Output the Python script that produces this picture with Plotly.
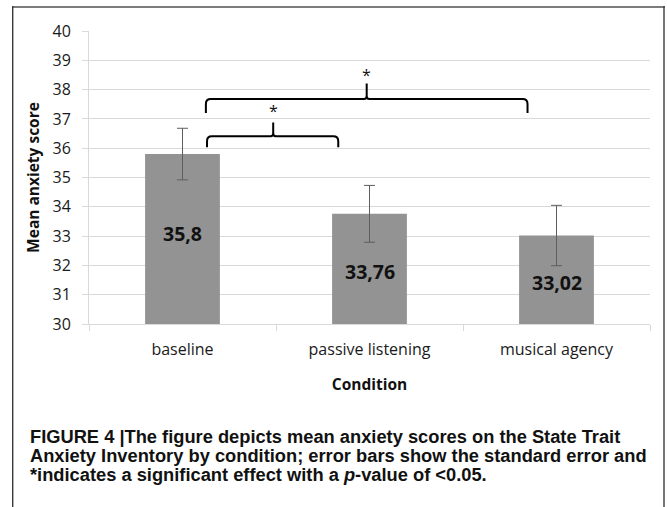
import plotly.graph_objects as go

# ---------------- data ----------------
conditions = ["baseline", "passive listening", "musical agency"]
mean_scores = [35.8, 33.76, 33.02]
std_errors = [0.88, 0.97, 1.03]
value_labels = ["35,8", "33,76", "33,02"]
label_y = [33.09, 31.80, 31.41]          # where the value labels sit (data units)

# significance brackets: (left x, right x, tip x, level y, end y, tip y) in category/data units
brackets = [
    (0.125, 1.845, 0.985, 37.68, 37.20, 38.21),
    (0.131, 0.833, 0.485, 36.41, 36.03, 36.88),
]
bracket_marks = ["*", "*"]
mark_y = [38.50, 37.28]

y_range = [30, 40]

caption_lines = [
    "FIGURE 4 |The figure depicts mean anxiety scores on the State Trait",
    "Anxiety Inventory by condition; error bars show the standard error and",
    "*indicates a significant effect with a <i>p</i>-value of &lt;0.05.",
]

# ---------------- layout geometry ----------------
W, H = 667, 507
ML, MR, MT, MB = 89, 17, 31, 183
PW, PH = W - ML - MR, H - MT - MB


def px2x(px):
    return (px - ML) / PW


def py2y(py):
    return (H - MB - py) / PH


FONT = "Open Sans"
BAR_COLOR = "#939393"
GRID = "#d9d9d9"

fig = go.Figure()
fig.add_trace(go.Bar(
    x=conditions, y=mean_scores,
    marker=dict(color=BAR_COLOR, line=dict(width=0)),
    width=0.4,
    error_y=dict(type="data", array=std_errors, visible=True,
                 color="#5e5e5e", thickness=1, width=5.5),
    showlegend=False, hoverinfo="skip",
))

shapes = []
annotations = []

# brackets
for (x0, x1, xt, yl, ye, yt) in brackets:
    rx, ry = 0.026, 0.17
    tx, ty = 0.014, 0.10
    path = (
        f"M {x0},{ye} L {x0},{yl - ry} Q {x0},{yl} {x0 + rx},{yl} "
        f"L {xt - tx},{yl} Q {xt},{yl} {xt},{yl + ty} L {xt},{yt} "
        f"M {xt},{yl + ty} Q {xt},{yl} {xt + tx},{yl} "
        f"L {x1 - rx},{yl} Q {x1},{yl} {x1},{yl - ry} L {x1},{ye}"
    )
    shapes.append(dict(type="path", xref="x", yref="y", path=path,
                       line=dict(color="black", width=2)))

for (b, m, my) in zip(brackets, bracket_marks, mark_y):
    annotations.append(dict(x=b[2], y=my, xref="x", yref="y", text=m,
                            showarrow=False,
                            font=dict(family=FONT, size=16, color="#111")))

# value labels
for c, t, ly in zip(conditions, value_labels, label_y):
    annotations.append(dict(x=c, y=ly, xref="x", yref="y", text=t,
                            showarrow=False,
                            font=dict(family=FONT, size=19.5, color="#111",
                                      weight="bold")))

# caption
cap_centers = [436.5, 455.5, 474.5]
for line, cy in zip(caption_lines, cap_centers):
    annotations.append(dict(x=px2x(28), y=py2y(cy), xref="paper", yref="paper",
                            text=line, showarrow=False, xanchor="left",
                            yanchor="middle",
                            font=dict(family="Liberation Sans", size=18.3,
                                      color="#111", weight="bold")))

# frame
shapes.append(dict(type="line", xref="paper", yref="paper",
                   x0=px2x(12), x1=px2x(665), y0=py2y(7), y1=py2y(7),
                   line=dict(color="#7c7c7c", width=2)))
shapes.append(dict(type="line", xref="paper", yref="paper",
                   x0=px2x(12.7), x1=px2x(12.7), y0=py2y(6), y1=py2y(510),
                   line=dict(color="#3a3a3a", width=1.4)))
shapes.append(dict(type="line", xref="paper", yref="paper",
                   x0=px2x(664), x1=px2x(664), y0=py2y(6), y1=py2y(510),
                   line=dict(color="#3a3a3a", width=1.4)))

fig.update_layout(
    width=W, height=H,
    margin=dict(l=ML, r=MR, t=MT, b=MB),
    paper_bgcolor="white", plot_bgcolor="white",
    shapes=shapes, annotations=annotations,
    bargap=0.6,
    font=dict(family=FONT, color="#222"),
)
fig.update_xaxes(
    type="category", tickson="boundaries",
    ticks="outside", ticklen=6, tickcolor=GRID, tickwidth=1,
    showline=True, linecolor=GRID, linewidth=1, showgrid=False,
    tickfont=dict(family=FONT, size=16, color="#1a1a1a"),
    ticklabelstandoff=11,
    title=dict(text="Condition", standoff=19,
               font=dict(family=FONT, size=15.5, color="#111", weight="bold")),
)
fig.update_yaxes(
    range=y_range, dtick=1, tick0=30,
    ticks="outside", ticklen=6, tickcolor=GRID, tickwidth=1,
    showline=True, linecolor=GRID, linewidth=1,
    showgrid=True, gridcolor=GRID, gridwidth=1.3,
    tickfont=dict(family=FONT, size=16, color="#1a1a1a"),
    ticklabelstandoff=8,
    title=dict(text="Mean anxiety score", standoff=9,
               font=dict(family=FONT, size=15.5, color="#111", weight="bold")),
    zeroline=False,
)

fig.write_html(
    "out.html",
    config={"displayModeBar": False},
    post_script="document.body.style.margin='0';document.body.style.overflow='hidden';",
)
